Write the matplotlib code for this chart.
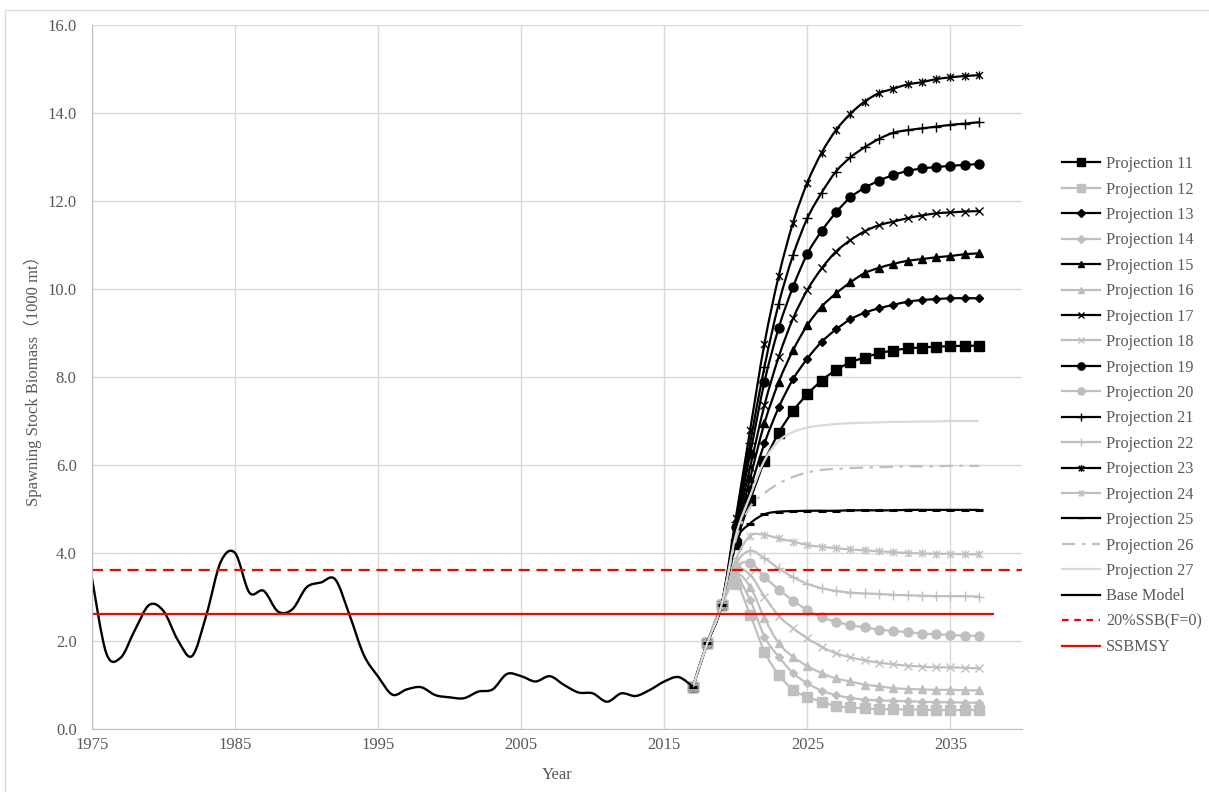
import numpy as np
import matplotlib
matplotlib.use("Agg")
import matplotlib.pyplot as plt
from matplotlib.path import Path
from matplotlib.patches import PathPatch, Rectangle
from matplotlib.lines import Line2D

plt.rcParams['font.family'] = ['Liberation Serif', 'Noto Sans CJK SC', 'DejaVu Sans']

# 基础模型 (1975-2017)
base_years = list(range(1975, 2018))
base_ssb = [3.42, 1.72, 1.62, 2.25, 2.82, 2.68, 2.02, 1.66, 2.60, 3.80,
            4.00, 3.10, 3.14, 2.67, 2.72, 3.22, 3.33, 3.40, 2.59, 1.68,
            1.19, 0.78, 0.90, 0.95, 0.77, 0.72, 0.70, 0.85, 0.90, 1.25,
            1.20, 1.08, 1.20, 1.00, 0.83, 0.81, 0.62, 0.81, 0.75, 0.89,
            1.08, 1.18, 0.96]

# 预测 (2017-2037)
proj_years = list(range(2017, 2038))
p11 = [0.96, 1.95, 2.82, 4.20, 5.20, 6.08, 6.73, 7.23, 7.61, 7.92, 8.16,
       8.33, 8.44, 8.54, 8.60, 8.65, 8.67, 8.69, 8.70, 8.71, 8.71]
p12 = [0.96, 1.95, 2.82, 3.30, 2.59, 1.76, 1.23, 0.89, 0.73, 0.62, 0.52,
       0.49, 0.47, 0.45, 0.45, 0.44, 0.44, 0.43, 0.43, 0.43, 0.43]
p13 = [0.96, 1.95, 2.82, 4.30, 5.45, 6.49, 7.31, 7.95, 8.42, 8.80, 9.08,
       9.31, 9.46, 9.56, 9.64, 9.71, 9.75, 9.77, 9.79, 9.79, 9.79]
p14 = [0.96, 1.95, 2.82, 3.40, 2.93, 2.10, 1.64, 1.27, 1.04, 0.87, 0.77,
       0.71, 0.67, 0.65, 0.64, 0.63, 0.62, 0.61, 0.61, 0.60, 0.60]
p15 = [0.96, 1.95, 2.82, 4.40, 5.70, 6.95, 7.89, 8.61, 9.18, 9.60, 9.90,
       10.15, 10.36, 10.48, 10.57, 10.64, 10.68, 10.72, 10.75, 10.79, 10.81]
p16 = [0.96, 1.95, 2.82, 3.50, 3.23, 2.52, 1.95, 1.64, 1.43, 1.27, 1.15,
       1.08, 1.01, 0.97, 0.93, 0.91, 0.90, 0.89, 0.89, 0.88, 0.88]
p17 = [0.96, 1.95, 2.82, 4.50, 5.95, 7.36, 8.46, 9.33, 9.98, 10.47, 10.85,
       11.11, 11.31, 11.45, 11.53, 11.61, 11.67, 11.72, 11.74, 11.76, 11.77]
p18 = [0.96, 1.95, 2.82, 3.60, 3.50, 3.01, 2.57, 2.29, 2.06, 1.87, 1.72,
       1.63, 1.56, 1.51, 1.47, 1.44, 1.42, 1.40, 1.40, 1.39, 1.38]
p19 = [0.96, 1.95, 2.82, 4.60, 6.25, 7.89, 9.12, 10.05, 10.80, 11.32, 11.74,
       12.08, 12.30, 12.46, 12.59, 12.68, 12.74, 12.77, 12.80, 12.82, 12.84]
p20 = [0.96, 1.95, 2.82, 3.65, 3.78, 3.46, 3.17, 2.92, 2.70, 2.54, 2.44,
       2.36, 2.31, 2.26, 2.23, 2.20, 2.17, 2.15, 2.14, 2.12, 2.12]
p21 = [0.96, 1.95, 2.82, 4.70, 6.50, 8.23, 9.67, 10.77, 11.61, 12.19, 12.67,
       12.99, 13.22, 13.41, 13.55, 13.61, 13.65, 13.69, 13.73, 13.76, 13.79]
p22 = [0.96, 1.95, 2.82, 3.75, 4.05, 3.88, 3.65, 3.45, 3.30, 3.20, 3.14,
       3.10, 3.08, 3.07, 3.05, 3.04, 3.03, 3.02, 3.02, 3.02, 3.01]
p23 = [0.96, 1.95, 2.82, 4.80, 6.80, 8.76, 10.30, 11.51, 12.42, 13.10, 13.61,
       13.98, 14.26, 14.45, 14.55, 14.65, 14.70, 14.77, 14.81, 14.84, 14.86]
p24 = [0.96, 1.95, 2.82, 3.85, 4.39, 4.41, 4.33, 4.26, 4.18, 4.14, 4.11,
       4.08, 4.06, 4.04, 4.02, 4.00, 3.99, 3.98, 3.98, 3.97, 3.97]
p25 = [0.96, 1.95, 2.82, 4.25, 4.67, 4.88, 4.94, 4.95, 4.96, 4.96, 4.96,
       4.97, 4.97, 4.97, 4.97, 4.98, 4.98, 4.98, 4.98, 4.98, 4.98]
p26 = [0.96, 1.95, 2.82, 4.30, 5.05, 5.36, 5.58, 5.73, 5.83, 5.89, 5.91,
       5.93, 5.94, 5.95, 5.96, 5.97, 5.97, 5.97, 5.98, 5.98, 5.98]
p27 = [0.96, 1.95, 2.82, 4.40, 5.30, 6.10, 6.55, 6.75, 6.85, 6.90, 6.93,
       6.95, 6.96, 6.97, 6.98, 6.98, 6.99, 6.99, 7.00, 7.00, 7.00]

# 参考线
ssb20_years = [1975, 2040]
ssb20 = [3.61, 3.61]
ssbmsy_years = [1975, 2038]
ssbmsy = [2.61, 2.61]


def smooth_path(x, y):
    """类似 Excel 平滑线的三次贝塞尔路径"""
    pts = np.column_stack([x, y]).astype(float)
    n = len(pts)
    verts = [pts[0]]
    codes = [Path.MOVETO]
    for i in range(n - 1):
        p0 = pts[i - 1] if i > 0 else pts[i]
        p1 = pts[i]
        p2 = pts[i + 1]
        p3 = pts[i + 2] if i + 2 < n else p2
        verts += [p1 + (p2 - p0) / 6, p2 - (p3 - p1) / 6, p2]
        codes += [Path.CURVE4] * 3
    return Path(verts, codes)


# Excel 的 "星形" 标记: x 加竖线
star = Path([(-1, -1), (1, 1), (-1, 1), (1, -1), (0, -1.2), (0, 1.2)],
            [Path.MOVETO, Path.LINETO, Path.MOVETO, Path.LINETO, Path.MOVETO, Path.LINETO])

BLACK = "black"
GRAY = "#bfbfbf"
LIGHT = "#d9d9d9"

series = [
    ("Projection 11", p11, BLACK, "-", "s", 6.5),
    ("Projection 12", p12, GRAY, "-", "s", 6.5),
    ("Projection 13", p13, BLACK, "-", "D", 4.5),
    ("Projection 14", p14, GRAY, "-", "D", 4.5),
    ("Projection 15", p15, BLACK, "-", "^", 6),
    ("Projection 16", p16, GRAY, "-", "^", 6),
    ("Projection 17", p17, BLACK, "-", "x", 6),
    ("Projection 18", p18, GRAY, "-", "x", 6),
    ("Projection 19", p19, BLACK, "-", "o", 6.5),
    ("Projection 20", p20, GRAY, "-", "o", 6.5),
    ("Projection 21", p21, BLACK, "-", "+", 7),
    ("Projection 22", p22, GRAY, "-", "+", 7),
    ("Projection 23", p23, BLACK, "-", star, 6),
    ("Projection 24", p24, GRAY, "-", star, 6),
    ("Projection 25", p25, BLACK, "-", "_", 6),
    ("Projection 26", p26, GRAY, (0, (6, 3, 1.5, 3)), None, 0),
    ("Projection 27", p27, LIGHT, "-", None, 0),
]

fig = plt.figure(figsize=(12.09, 7.92), dpi=100)
ax = fig.add_axes([92 / 1209, 1 - 729 / 792, (1022 - 92) / 1209, (729 - 25) / 792])

handles = []
z = 2.0
for label, vals, color, ls, marker, ms in series:
    ax.add_patch(PathPatch(smooth_path(proj_years, vals), fill=False,
                           edgecolor=color, lw=1.6, ls=ls, zorder=z))
    if marker is not None:
        mew = 2.2 if marker == "_" else 1.0
        ax.plot(proj_years, vals, ls="none", marker=marker, ms=ms, color=color,
                mec=color, mew=mew, zorder=z + 0.001)
    handles.append(Line2D([], [], color=color, lw=1.6, ls=ls, marker=marker,
                          ms=ms * 0.8, mew=1.0, label=label))
    z += 0.01

ax.add_patch(PathPatch(smooth_path(base_years, base_ssb), fill=False,
                       edgecolor=BLACK, lw=1.7, zorder=z))
handles.append(Line2D([], [], color=BLACK, lw=1.6, label="Base Model"))

ax.plot(ssb20_years, ssb20, color="red", lw=1.6, dashes=(5, 3), zorder=z + 0.1)
handles.append(Line2D([], [], color="red", lw=1.6, dashes=(3, 2.5), label="20%SSB(F=0)"))
ax.plot(ssbmsy_years, ssbmsy, color="red", lw=1.6, zorder=z + 0.1)
handles.append(Line2D([], [], color="red", lw=1.6, label="SSBMSY"))

ax.set_xlim(1975, 2040)
ax.set_ylim(0, 16)
ax.set_xticks(range(1975, 2040, 10))
ax.set_yticks(np.arange(0, 16.1, 2))
ax.set_yticklabels([f"{v:.1f}" for v in np.arange(0, 16.1, 2)])
ax.grid(True, color="#d9d9d9", lw=1)
ax.set_axisbelow(True)
for s in ["top", "right"]:
    ax.spines[s].set_visible(False)
for s in ["left", "bottom"]:
    ax.spines[s].set_color("#bfbfbf")
ax.tick_params(axis="both", length=0, colors="#595959", labelsize=12)
ax.tick_params(axis="y", pad=11)
ax.tick_params(axis="x", pad=6)

ax.set_xlabel("Year", fontsize=12, color="#595959", labelpad=10)
ax.set_ylabel("Spawning Stock Biomass（1000 mt）", fontsize=12, color="#595959", labelpad=4)

leg = fig.legend(handles=handles, loc="upper left", bbox_to_anchor=(1054 / 1209, 1 - 148 / 792),
                 frameon=False, fontsize=11.7, labelcolor="#595959", handlelength=2.3,
                 handletextpad=0.4, labelspacing=0.58, borderpad=0)

fig.patches.append(Rectangle((5 / 1209, -0.1), 1.2, 1 - 10 / 792 + 0.1, transform=fig.transFigure,
                             fill=False, edgecolor="#d9d9d9", lw=1))

plt.savefig("out.png", dpi=100)
